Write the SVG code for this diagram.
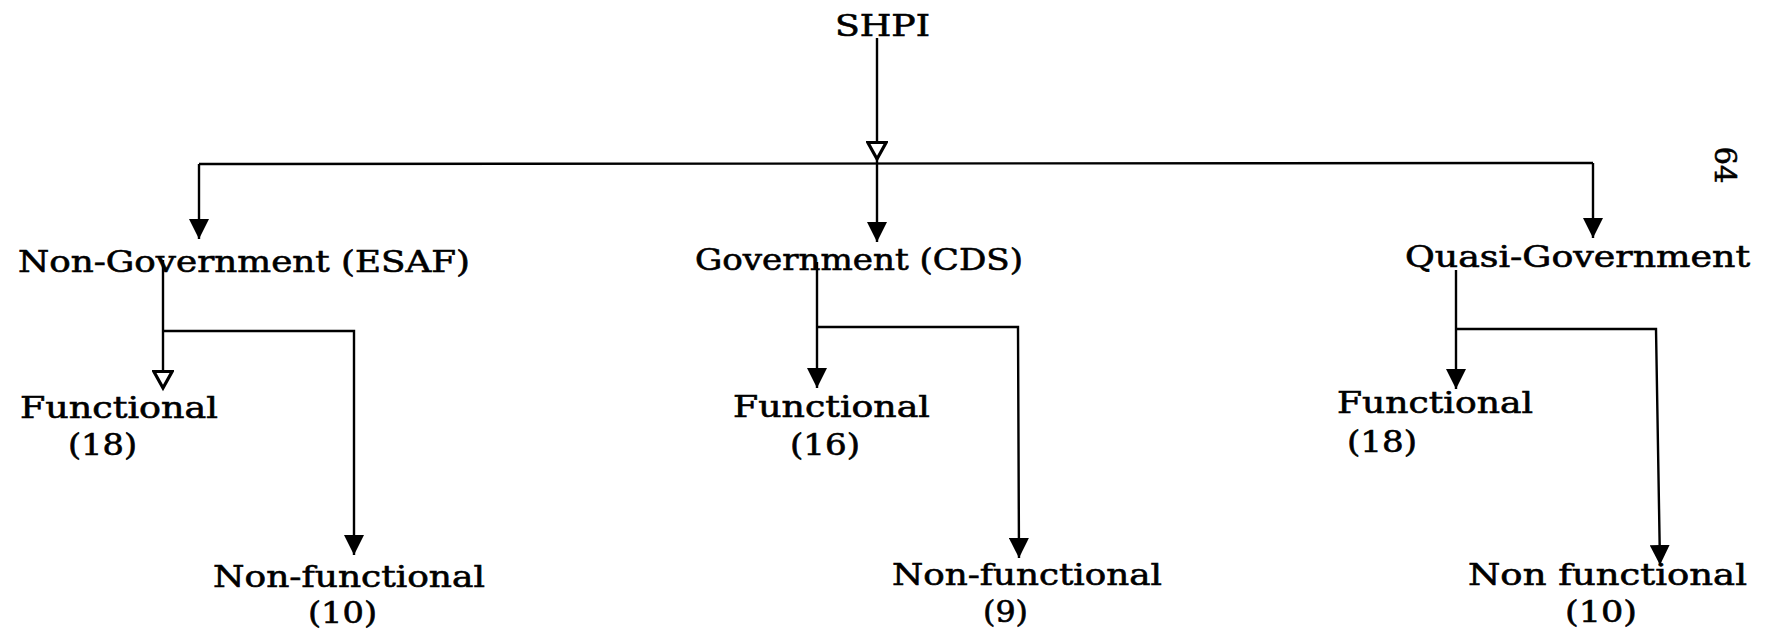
<svg xmlns="http://www.w3.org/2000/svg" width="1775" height="638" viewBox="0 0 1775 638">
<style>
.t{font-family:"DejaVu Serif","Liberation Serif",serif;font-size:29px;fill:#000;stroke:#000;stroke-width:0.6;}
.c line,.c polyline{stroke:#000;stroke-width:2.4;fill:none;}
</style>
<defs>
<marker id="af" viewBox="0 0 20 20" refX="20" refY="10" markerWidth="20" markerHeight="20" markerUnits="userSpaceOnUse" orient="auto"><path d="M0,0 L20,10 L0,20 Z" fill="#000"/></marker>
<marker id="ah" viewBox="-2 -2 24 24" refX="18" refY="10" markerWidth="22" markerHeight="22" markerUnits="userSpaceOnUse" orient="auto"><path d="M0,0 L18,10 L0,20 Z" fill="#fff" stroke="#000" stroke-width="3.5"/></marker>
</defs>
<rect width="1775" height="638" fill="#fff"/>
<g class="c" id="connectors">
<line x1="877" y1="38" x2="877" y2="159" marker-end="url(#ah)"/>
<line x1="877" y1="159" x2="877" y2="242" marker-end="url(#af)"/>
<line x1="199" y1="164" x2="1593" y2="163"/>
<line x1="199" y1="164" x2="199" y2="239" marker-end="url(#af)"/>
<line x1="1593" y1="163" x2="1593" y2="238" marker-end="url(#af)"/>
<line x1="163" y1="260" x2="163" y2="388" marker-end="url(#ah)"/>
<polyline points="163,331 354,331 354,555" marker-end="url(#af)"/>
<line x1="817" y1="262" x2="817" y2="388" marker-end="url(#af)"/>
<polyline points="817,327 1018,327 1019,558" marker-end="url(#af)"/>
<line x1="1456" y1="270" x2="1456" y2="389" marker-end="url(#af)"/>
<polyline points="1456,329 1656,329 1660,565" marker-end="url(#af)"/>
</g>
<g id="shpi"><text class="t" x="835" y="36" textLength="95" lengthAdjust="spacingAndGlyphs">SHPI</text></g>
<g id="nongov"><text class="t" x="18" y="272" textLength="452" lengthAdjust="spacingAndGlyphs">Non-Government (ESAF)</text></g>
<g id="gov"><text class="t" x="695" y="270" textLength="328" lengthAdjust="spacingAndGlyphs">Government (CDS)</text></g>
<g id="quasi"><text class="t" x="1405" y="267" textLength="345" lengthAdjust="spacingAndGlyphs">Quasi-Government</text></g>
<g id="ng-func"><text class="t" x="20" y="418" textLength="198" lengthAdjust="spacingAndGlyphs">Functional</text><text class="t" x="68" y="455" textLength="69" lengthAdjust="spacingAndGlyphs">(18)</text></g>
<g id="ng-nonfunc"><text class="t" x="213" y="587" textLength="272" lengthAdjust="spacingAndGlyphs">Non-functional</text><text class="t" x="308" y="623" textLength="69" lengthAdjust="spacingAndGlyphs">(10)</text></g>
<g id="g-func"><text class="t" x="733" y="417" textLength="197" lengthAdjust="spacingAndGlyphs">Functional</text><text class="t" x="790" y="455" textLength="70" lengthAdjust="spacingAndGlyphs">(16)</text></g>
<g id="g-nonfunc"><text class="t" x="892" y="585" textLength="270" lengthAdjust="spacingAndGlyphs">Non-functional</text><text class="t" x="983" y="622" textLength="45" lengthAdjust="spacingAndGlyphs">(9)</text></g>
<g id="q-func"><text class="t" x="1337" y="413" textLength="196" lengthAdjust="spacingAndGlyphs">Functional</text><text class="t" x="1347" y="452" textLength="70" lengthAdjust="spacingAndGlyphs">(18)</text></g>
<g id="q-nonfunc"><text class="t" x="1468" y="585" textLength="279" lengthAdjust="spacingAndGlyphs">Non functional</text><text class="t" x="1565" y="622" textLength="72" lengthAdjust="spacingAndGlyphs">(10)</text></g>
<g id="pagenum"><text class="t" x="1725" y="165" dy="0.36em" text-anchor="middle" font-size="25" transform="rotate(90 1725 165)">64</text></g>
</svg>
